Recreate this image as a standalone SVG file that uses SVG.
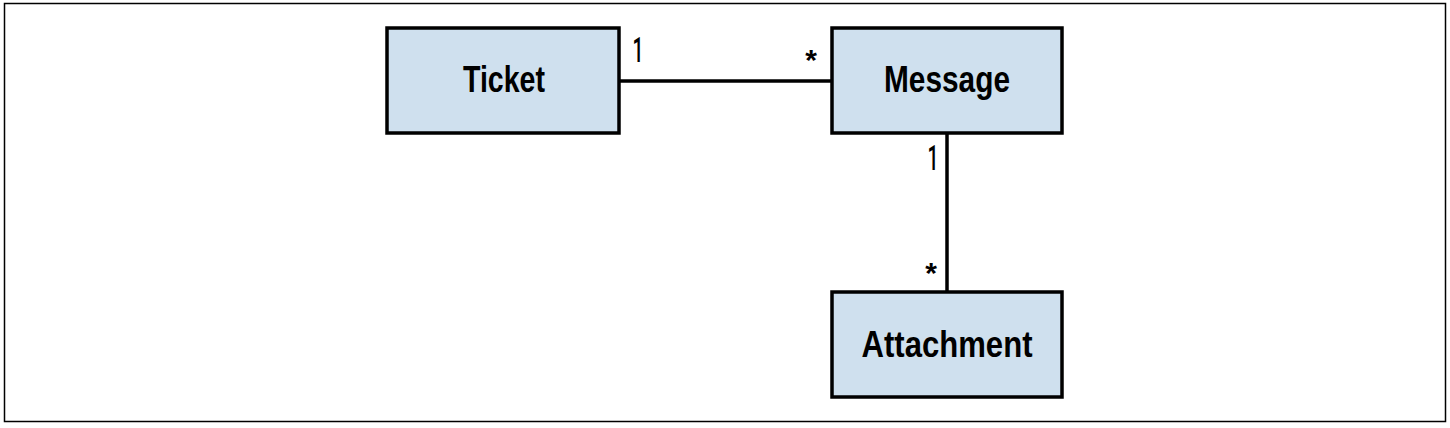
<svg xmlns="http://www.w3.org/2000/svg" width="1450" height="428" viewBox="0 0 1450 428">
<style>
.node rect{fill:#cfe0ee;stroke:#000;stroke-width:3.5}
.label{font-family:"Liberation Sans",Arial,sans-serif;font-weight:bold;font-size:36px;fill:#000}
.mult{font-family:Roboto,"Liberation Sans",Arial,sans-serif;font-weight:500;font-size:35px;fill:#000}
.star{font-family:"Liberation Sans",Arial,sans-serif;font-weight:bold;font-size:30px;fill:#000}
.conn line{stroke:#000;stroke-width:3.5}
</style>
<rect x="4.5" y="3.5" width="1441" height="418" fill="#fff" stroke="#000" stroke-width="1.5"/>
<g id="connectors" class="conn">
<line x1="619" y1="81" x2="832" y2="81"/>
<line x1="947" y1="133" x2="947" y2="292"/>
</g>
<g id="ticket" class="node">
<rect x="387" y="28" width="232" height="105"/>
<text class="label" x="504" y="92" text-anchor="middle" textLength="82" lengthAdjust="spacingAndGlyphs">Ticket</text>
</g>
<g id="message" class="node">
<rect x="832" y="28" width="230" height="105"/>
<text class="label" x="947" y="92" text-anchor="middle" textLength="126" lengthAdjust="spacingAndGlyphs">Message</text>
</g>
<g id="attachment" class="node">
<rect x="832" y="292" width="230" height="105"/>
<text class="label" x="947" y="357" text-anchor="middle" textLength="171" lengthAdjust="spacingAndGlyphs">Attachment</text>
</g>
<g id="multiplicities">
<text class="mult" x="638" y="62" text-anchor="middle" textLength="11" lengthAdjust="spacingAndGlyphs">1</text>
<text class="star" x="811" y="70" text-anchor="middle">*</text>
<text class="mult" x="933" y="170" text-anchor="middle" textLength="11" lengthAdjust="spacingAndGlyphs">1</text>
<text class="star" x="931" y="283" text-anchor="middle">*</text>
</g>
</svg>
